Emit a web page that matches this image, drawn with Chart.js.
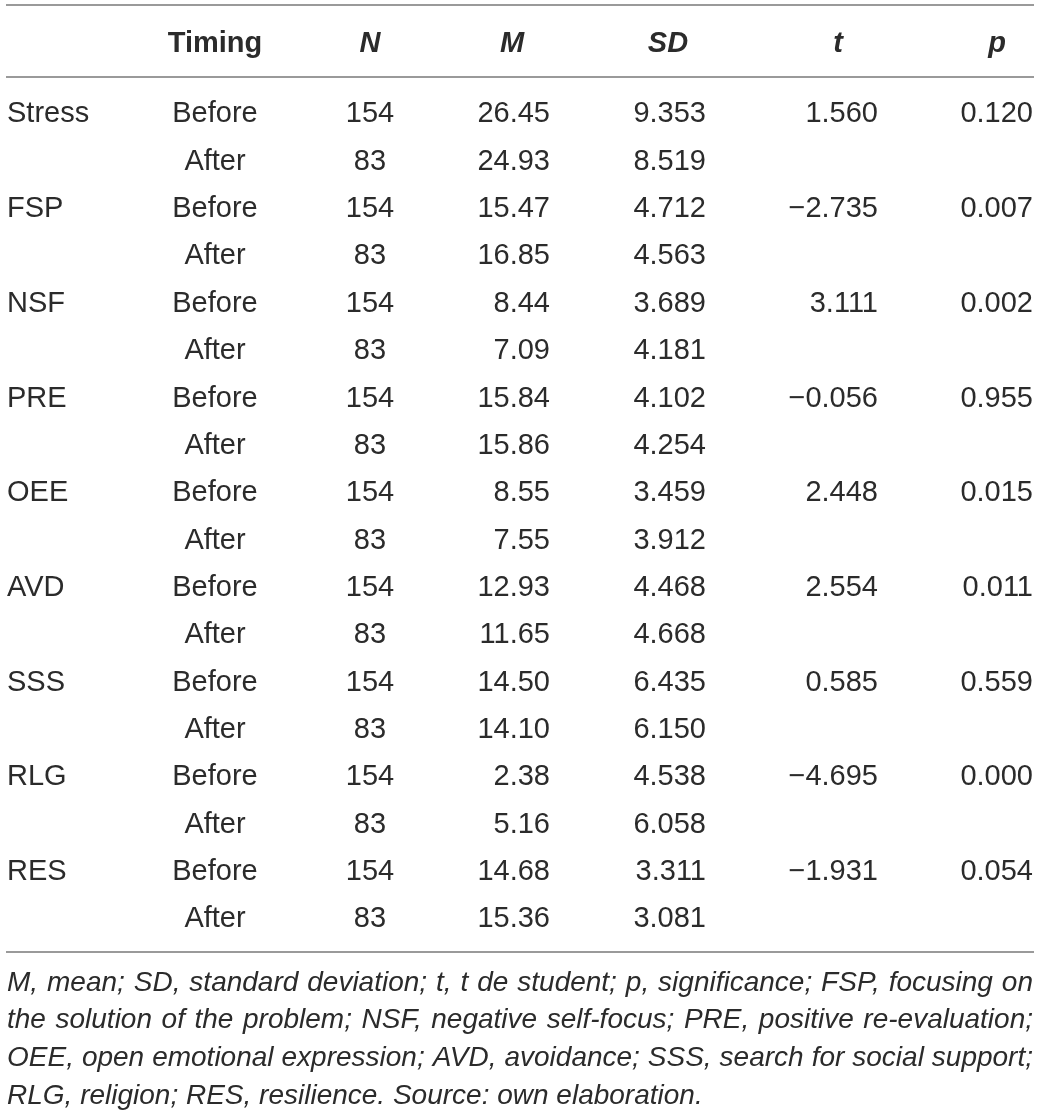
<!DOCTYPE html>
<html>
<head>
<meta charset="utf-8">
<script src="https://cdn.jsdelivr.net/npm/chart.js@4/dist/chart.umd.min.js"></script>
<style>
html,body{margin:0;padding:0;background:#fff;}
#wrap{width:1040px;height:1113px;}
</style>
</head>
<body>
<div id="wrap"><canvas id="c" width="1040" height="1113"></canvas></div>
<script>
// ---- data ----
const variables = ['Stress','FSP','NSF','PRE','OEE','AVD','SSS','RLG','RES'];
const timings = ['Before','After'];
const headers = ['', 'Timing', 'N', 'M', 'SD', 't', 'p'];
const nBefore = [154,154,154,154,154,154,154,154,154];
const nAfter = [83,83,83,83,83,83,83,83,83];
const meanBefore = [26.45,15.47,8.44,15.84,8.55,12.93,14.50,2.38,14.68];
const meanAfter = [24.93,16.85,7.09,15.86,7.55,11.65,14.10,5.16,15.36];
const sdBefore = [9.353,4.712,3.689,4.102,3.459,4.468,6.435,4.538,3.311];
const sdAfter = [8.519,4.563,4.181,4.254,3.912,4.668,6.150,6.058,3.081];
const tValues = [1.560,-2.735,3.111,-0.056,2.448,2.554,0.585,-4.695,-1.931];
const pValues = [0.120,0.007,0.002,0.955,0.015,0.011,0.559,0.000,0.054];
const footnoteLines = [
  'M, mean; SD, standard deviation; t, t de student; p, significance; FSP, focusing on',
  'the solution of the problem; NSF, negative self-focus; PRE, positive re-evaluation;',
  'OEE, open emotional expression; AVD, avoidance; SSS, search for social support;',
  'RLG, religion; RES, resilience. Source: own elaboration.'
];

// ---- layout (not data) ----
const FONT = '"Liberation Sans", Arial, Helvetica, sans-serif';
const FS = 29;
const TEXT = '#2b2b2b';
const RULE = '#9a9a9a';
const LEFT = 6, RIGHT = 1034;
const colX = [7, 215, 370, 550, 706, 878, 1033];
const colAlign = ['left','center','center','right','right','right','right'];
const headX = [7, 215, 370, 512, 668, 838, 997];
const HEADER_ROW = -1.48;
const RULES = [-2.26, -0.74, 17.74];
const FOOT_ROWS = [18.35, 19.14, 19.935, 20.73];

function fmt(v, d){ const s = Math.abs(v).toFixed(d); return v < 0 ? '\u2212' + s : s; }

const cols = [[],[],[],[],[],[],[]];
variables.forEach((v, i) => {
  const r0 = i*2, r1 = i*2+1;
  cols[0].push({y:r0, t:v});
  cols[1].push({y:r0, t:timings[0]}); cols[1].push({y:r1, t:timings[1]});
  cols[2].push({y:r0, t:String(nBefore[i])}); cols[2].push({y:r1, t:String(nAfter[i])});
  cols[3].push({y:r0, t:meanBefore[i].toFixed(2)}); cols[3].push({y:r1, t:meanAfter[i].toFixed(2)});
  cols[4].push({y:r0, t:sdBefore[i].toFixed(3)}); cols[4].push({y:r1, t:sdAfter[i].toFixed(3)});
  cols[5].push({y:r0, t:fmt(tValues[i],3)});
  cols[6].push({y:r0, t:pValues[i].toFixed(3)});
});

const datasets = cols.map((c, ci) => ({
  label: headers[ci] || 'Variable',
  data: c.map(o => ({x: colX[ci], y: o.y})),
  texts: c.map(o => o.t),
  align: colAlign[ci],
  kind: 'cell',
  pointRadius: 0, pointHoverRadius: 0, showLine: false
}));
datasets.push({
  label: 'header',
  data: headers.map((h, i) => ({x: headX[i], y: HEADER_ROW})),
  texts: headers,
  kind: 'header',
  pointRadius: 0, pointHoverRadius: 0, showLine: false
});

const tablePlugin = {
  id: 'tableText',
  afterDatasetsDraw(chart) {
    const ctx = chart.ctx;
    const xs = chart.scales.x, ys = chart.scales.y;
    ctx.save();
    ctx.strokeStyle = RULE; ctx.lineWidth = 2;
    RULES.forEach(r => {
      const y = Math.round(ys.getPixelForValue(r));
      ctx.beginPath();
      ctx.moveTo(xs.getPixelForValue(LEFT), y);
      ctx.lineTo(xs.getPixelForValue(RIGHT), y);
      ctx.stroke();
    });
    ctx.fillStyle = TEXT;
    ctx.textBaseline = 'alphabetic';
    chart.data.datasets.forEach((ds, di) => {
      const meta = chart.getDatasetMeta(di);
      meta.data.forEach((el, i) => {
        const txt = ds.texts[i];
        if (!txt) return;
        if (ds.kind === 'header') {
          ctx.font = (i === 1 ? 'bold ' : 'italic bold ') + FS + 'px ' + FONT;
          ctx.textAlign = 'center';
        } else {
          ctx.font = FS + 'px ' + FONT;
          ctx.textAlign = ds.align;
        }
        ctx.fillText(txt, el.x, el.y + FS*0.36);
      });
    });
    const fFS = 28;
    ctx.font = 'italic ' + fFS + 'px ' + FONT;
    ctx.textAlign = 'left';
    const x0 = xs.getPixelForValue(7), x1 = xs.getPixelForValue(1033);
    footnoteLines.forEach((line, li) => {
      const y = ys.getPixelForValue(FOOT_ROWS[li]) + fFS*0.36;
      const words = line.split(' ');
      if (li === footnoteLines.length - 1) { ctx.fillText(line, x0, y); return; }
      const ww = words.map(w => ctx.measureText(w).width);
      const total = ww.reduce((a,b)=>a+b,0);
      const gap = (x1 - x0 - total) / (words.length - 1);
      let x = x0;
      words.forEach((w, wi) => { ctx.fillText(w, x, y); x += ww[wi] + gap; });
    });
    ctx.restore();
  }
};

new Chart(document.getElementById('c'), {
  type: 'scatter',
  data: { datasets },
  options: {
    responsive: false,
    animation: false,
    events: [],
    layout: { padding: 0 },
    plugins: { legend: { display: false }, tooltip: { enabled: false } },
    scales: {
      x: { type: 'linear', display: false, min: 0, max: 1040 },
      y: { type: 'linear', display: false, reverse: true, min: -2.365, max: 21.14 }
    }
  },
  plugins: [tablePlugin]
});
</script>
</body>
</html>
